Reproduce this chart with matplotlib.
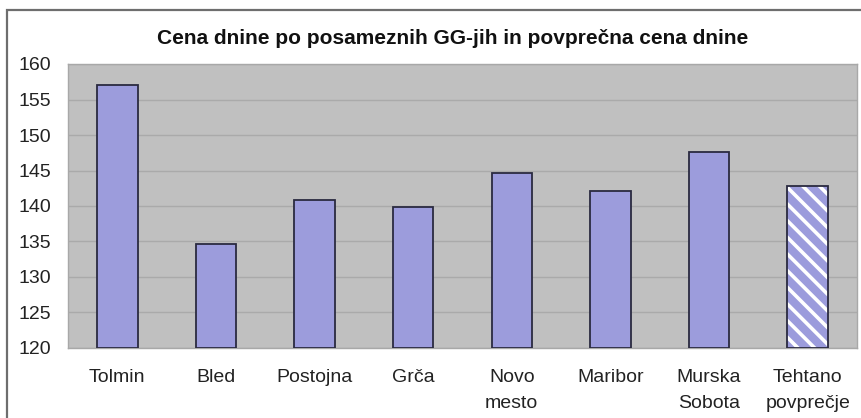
import matplotlib.pyplot as plt
from matplotlib.patches import Rectangle

plt.rcParams['font.family'] = ['Liberation Sans', 'DejaVu Sans']
plt.rcParams['hatch.linewidth'] = 2.6

categories = ['Tolmin', 'Bled', 'Postojna', 'Grča', 'Novo\nmesto',
              'Maribor', 'Murska\nSobota', 'Tehtano\npovprečje']
values = [157.0, 134.6, 140.8, 139.8, 144.7, 142.1, 147.6, 142.8]
yticks = [120, 125, 130, 135, 140, 145, 150, 155, 160]

bar_color = '#9c9cdc'
edge_color = '#2a2a40'

fig = plt.figure(figsize=(8.62, 4.18), dpi=100)
fig.patch.set_facecolor('white')

# outer chart frame
fig.patches.append(Rectangle((7 / 862, -0.1), 2, 1.1 - 10 / 418,
                             transform=fig.transFigure, fill=False,
                             edgecolor='#6e6e6e', linewidth=1.6))

ax = fig.add_axes([68 / 862, 1 - 348 / 418, 789 / 862, 284 / 418])
ax.set_facecolor('#c0c0c0')

x = list(range(len(categories)))
n = len(categories)
ax.bar(x[:n - 1], [v - 120 for v in values[:n - 1]], bottom=120, width=0.41,
       color=bar_color, edgecolor=edge_color, linewidth=1.3, zorder=3)
# weighted average: white diagonal hatching
ax.bar(x[n - 1], values[n - 1] - 120, bottom=120, width=0.41,
       color=bar_color, edgecolor='white', hatch='\\\\', linewidth=0, zorder=3)
ax.bar(x[n - 1], values[n - 1] - 120, bottom=120, width=0.41,
       fill=False, edgecolor=edge_color, linewidth=1.3, zorder=4)

ax.set_xlim(-0.5, n - 0.5)
ax.set_ylim(120, 160)
ax.set_yticks(yticks)
ax.yaxis.grid(True, color='#aaaaaa', linewidth=1.0, zorder=0)
ax.set_axisbelow(True)
ax.set_xticks(x)
ax.set_xticklabels(categories, fontsize=14, color='#222222', linespacing=1.7,
                   va='top')
ax.tick_params(axis='both', length=0, labelsize=14, colors='#222222')
ax.tick_params(axis='x', pad=15)
ax.tick_params(axis='y', pad=12)
for s in ax.spines.values():
    s.set_color('#a8a8a8')
    s.set_linewidth(1.0)

fig.text(453 / 862, 1 - 38 / 418,
         'Cena dnine po posameznih GG-jih in povprečna cena dnine',
         ha='center', va='center', fontsize=15, fontweight='bold',
         color='#111111')

fig.savefig('out.png', dpi=100)
